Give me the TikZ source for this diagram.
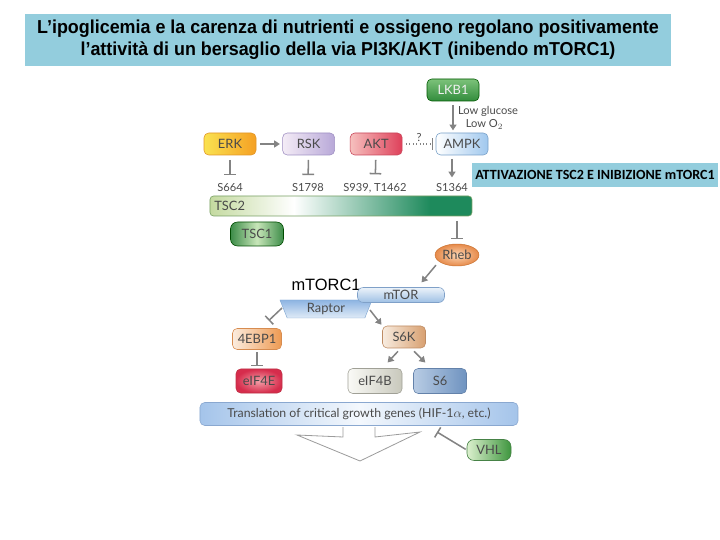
\documentclass[tikz,border=0pt]{standalone}
\usepackage{fontspec}
\setmainfont{Lato}
\newfontfamily\titlefont[FakeStretch=0.955]{Liberation Sans}
\newfontfamily\notefont{Carlito}
\newfontfamily\arialfont{Liberation Sans}
\usetikzlibrary{shapes.geometric, arrows.meta, positioning, calc}

\definecolor{titlebg}{HTML}{93CDDD}
\definecolor{arrowgray}{HTML}{838383}
\definecolor{labeltext}{HTML}{4A4A4A}
\definecolor{tscA}{HTML}{C4DAA0}
\definecolor{tscB}{HTML}{1E8A5C}
\pgfdeclarehorizontalshading{tscshade}{100bp}{color(0bp)=(tscA); color(25bp)=(tscA); color(41bp)=(white); color(67bp)=(tscB); color(100bp)=(tscB)}

\begin{document}
\begin{tikzpicture}[
    x=0.03cm, y=-0.03cm,
    box/.style={rectangle, draw, rounded corners=4pt, line width=0.5pt, minimum width=1.56cm, minimum height=0.66cm, inner sep=1pt, text=labeltext, font=\fontsize{11}{12}\selectfont},
    site/.style={text=labeltext, font=\fontsize{9.5}{10}\selectfont},
    arrow/.style={-{Triangle[length=5pt,width=6pt]}, arrowgray, line width=1.3pt, shorten <=3pt, shorten >=2pt},
    inhib/.style={-{Bar[width=10pt,line width=1.3pt]}, arrowgray, line width=1.3pt, shorten <=4pt, shorten >=4pt}
]
\useasboundingbox (0,0) rectangle (720,540);

\node[fill=titlebg, minimum width=19.38cm, minimum height=1.56cm, align=center, font=\titlefont\bfseries\fontsize{16}{18.5}\selectfont] (title) at (348,40) {L’ipoglicemia e la carenza di nutrienti e ossigeno regolano positivamente\\l’attività di un bersaglio della via PI3K/AKT (inibendo mTORC1)};

% upstream kinases
\node[box, top color={rgb,255:red,124;green,194;blue,122}, bottom color={rgb,255:red,50;green,140;blue,60}, draw=green!35!black, text=white!88!gray] (lkb1) at (453,90) {LKB1};
\node[box, left color=white, right color={rgb,255:red,160;green,200;blue,238}, draw={rgb,255:red,120;green,160;blue,200}] (ampk) at (462,144) {AMPK};
\node[box, left color={rgb,255:red,250;green,226;blue,80}, right color={rgb,255:red,245;green,160;blue,35}, draw={rgb,255:red,225;green,150;blue,40}] (erk) at (230,144) {ERK};
\node[box, right=0.78cm of erk, left color={rgb,255:red,244;green,236;blue,246}, right color={rgb,255:red,184;green,168;blue,216}, draw={rgb,255:red,160;green,145;blue,195}] (rsk) {RSK};
\node[box, right=0.45cm of rsk, left color={rgb,255:red,246;green,192;blue,190}, right color={rgb,255:red,222;green,64;blue,90}, draw={rgb,255:red,200;green,70;blue,90}] (akt) {AKT};

\node[text=labeltext, font=\fontsize{9.5}{11}\selectfont, align=left] (lowglc) at (488,118) {Low glucose\\\hspace*{0.7em}Low O$_2$};

\draw[arrow] (lkb1.south) -- (lkb1.south |- ampk.north);
\draw[arrow] (erk) -- (rsk);
\draw[-{Bar[width=10pt,line width=1.3pt]}, arrowgray, line width=0.9pt, dotted, shorten <=3pt, shorten >=2pt] (akt) -- node[above, text=labeltext, font=\fontsize{9.5}{10}\selectfont, yshift=-2pt] {?} (ampk);

% phosphosites on TSC2
\node[site] (s664) at (230,188) {S664};
\node[site] (s1798) at (308,188) {S1798};
\node[site] (s939) at (375,188) {S939, T1462};
\node[site] (s1364) at (452,188) {S1364};

\draw[inhib] (erk) -- (s664);
\draw[inhib] (rsk) -- (s1798);
\draw[inhib] (akt) -- (s939);
\draw[arrow] (ampk.south -| s1364) -- (s1364);

\node[fill=titlebg, minimum width=7.35cm, minimum height=0.72cm, inner sep=1pt, font=\notefont\bfseries\fontsize{12}{13}\selectfont] (note) at (595,175) {ATTIVAZIONE TSC2 E INIBIZIONE mTORC1};

% TSC complex
\node[box, shading=tscshade, draw={rgb,255:red,120;green,160;blue,100}, rounded corners=3pt, text width=7.6cm, inner xsep=0.13cm, minimum height=0.6cm, align=left] (tsc2) at (341,206) {TSC2};
\node[box, left color={rgb,255:red,60;green,140;blue,72}, right color={rgb,255:red,60;green,140;blue,72}, middle color={rgb,255:red,200;green,230;blue,185}, draw=green!30!black, minimum width=1.59cm, minimum height=0.72cm, rounded corners=6pt] (tsc1) at (257,234) {TSC1};

\node[ellipse, draw={rgb,255:red,200;green,112;blue,46}, inner color={rgb,255:red,252;green,214;blue,180}, outer color={rgb,255:red,230;green,138;blue,74}, minimum width=1.32cm, minimum height=0.66cm, inner sep=0pt, text=labeltext, font=\fontsize{11}{12}\selectfont] (rheb) at (457,255) {Rheb};
\draw[inhib] (tsc2.south -| rheb) -- (rheb);

% mTORC1
\node[font=\arialfont\fontsize{14}{16}\selectfont] (mtorc1) at (326,285) {mTORC1};
\node[trapezium, trapezium angle=58, shape border rotate=180, trapezium stretches body, draw={rgb,255:red,130;green,168;blue,210}, top color={rgb,255:red,141;green,180;blue,226}, bottom color={rgb,255:red,224;green,235;blue,247}, minimum width=2.76cm, minimum height=0.54cm, inner sep=0pt, text=labeltext, font=\fontsize{11}{12}\selectfont] (raptor) at (326,309) {Raptor};
\node[box, top color={rgb,255:red,236;green,243;blue,250}, bottom color={rgb,255:red,158;green,192;blue,228}, draw={rgb,255:red,127;green,160;blue,200}, minimum width=2.61cm, minimum height=0.45cm, rounded corners=5pt] (mtor) at (401,295) {mTOR};

\draw[arrow, shorten <=4pt] (rheb.200) -- ($(mtor.north)+(19,-3)$);

% downstream effectors
\node[box, left color={rgb,255:red,251;green,236;blue,222}, right color={rgb,255:red,238;green,154;blue,82}, draw={rgb,255:red,215;green,140;blue,80}, minimum width=1.47cm, minimum height=0.63cm] (ebp) at (257,339) {4EBP1};
\node[box, inner color={rgb,255:red,244;green,160;blue,168}, outer color={rgb,255:red,214;green,44;blue,76}, draw={rgb,255:red,190;green,50;blue,70}, minimum width=1.38cm, minimum height=0.72cm] (eif4e) at (259,381) {eIF4E};
\node[box, left color={rgb,255:red,248;green,236;blue,224}, right color={rgb,255:red,216;green,160;blue,112}, draw={rgb,255:red,190;green,140;blue,100}, minimum width=1.29cm] (s6k) at (404,337) {S6K};
\node[box, left color={rgb,255:red,250;green,250;blue,246}, right color={rgb,255:red,200;green,200;blue,188}, draw={rgb,255:red,160;green,160;blue,150}, minimum width=1.62cm, minimum height=0.75cm] (eif4b) at (375,381) {eIF4B};
\node[box, left color={rgb,255:red,184;green,204;blue,228}, right color={rgb,255:red,111;green,147;blue,192}, draw={rgb,255:red,100;green,130;blue,170}, minimum width=1.59cm, minimum height=0.75cm] (s6) at (440,381) {S6};

\draw[inhib, shorten <=0pt, shorten >=2pt] ($(raptor.center)+(-44,-1)$) -- ($(ebp.north)+(10,-6)$);
\draw[arrow, shorten <=0pt, shorten >=1pt] ($(raptor.center)+(44,1)$) -- (s6k.north west);
\draw[inhib, shorten <=2pt, shorten >=2pt] (ebp.south) -- (ebp.south |- eif4e.north);
\draw[arrow, shorten <=0pt] ($(s6k.south)+(-6,3)$) -- ($(eif4b.north)+(11,-4)$);
\draw[arrow, shorten <=0pt] ($(s6k.south)+(10,3)$) -- ($(s6.north)+(-13,-4)$);

\node[box, left color={rgb,255:red,164;green,196;blue,234}, right color={rgb,255:red,164;green,196;blue,234}, middle color={rgb,255:red,244;green,248;blue,253}, draw={rgb,255:red,138;green,168;blue,208}, minimum width=9.54cm, minimum height=0.69cm, font=\fontsize{10.5}{11}\selectfont] (transl) at (359,414) {Translation of critical growth genes (HIF-1$\alpha$, etc.)};

% open block arrow under the translation bar
\coordinate (wing) at (420,432);
\draw[arrowgray!80, line width=0.7pt, line join=miter] (343,427) -- (343,437) -- (297,435) -- (360,461) -- (wing) -- (375,437) -- (375,427);

\node[box, left color={rgb,255:red,220;green,240;blue,206}, right color={rgb,255:red,62;green,150;blue,62}, draw={rgb,255:red,70;green,130;blue,70}, minimum width=1.32cm, minimum height=0.63cm, rounded corners=6pt] (vhl) at (489,450) {VHL};
\draw[inhib, shorten <=1pt, shorten >=0pt] (vhl.west) -- ($(wing)+(17,0)$);

\end{tikzpicture}
\end{document}
